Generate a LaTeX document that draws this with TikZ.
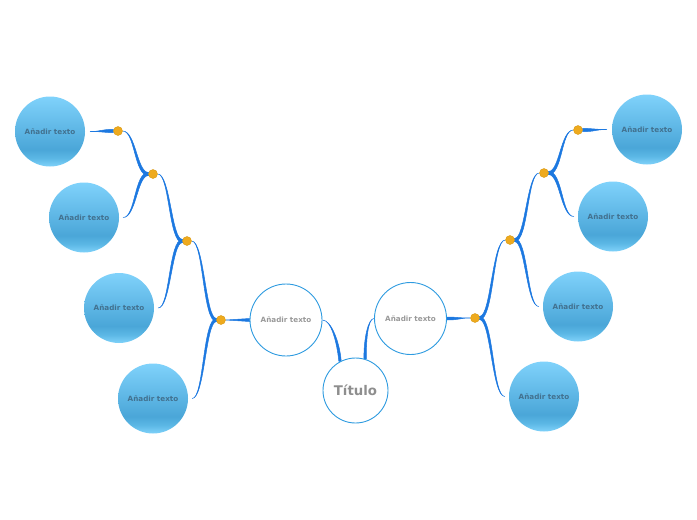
\documentclass[tikz,border=0pt]{standalone}
\usepackage{fontspec}
\usetikzlibrary{calc,backgrounds}
\newfontfamily\dv{DejaVu Sans}
\definecolor{connblue}{HTML}{1C78E0}
\definecolor{bluetext}{HTML}{42718F}
\definecolor{graytext}{HTML}{999999}
\definecolor{titletext}{HTML}{8E8E8E}
\definecolor{wstroke}{HTML}{2E9BE0}
\definecolor{dotfill}{HTML}{EEAA1E}
\definecolor{dotline}{HTML}{D99A14}
\definecolor{ctop}{HTML}{80D2FB}
\definecolor{cmid}{HTML}{4AA6D8}
\definecolor{cband}{HTML}{5BB7E5}
\definecolor{cbot}{HTML}{80D2FA}
\pgfdeclareverticalshading{bluecirc}{100bp}{color(0bp)=(cbot); color(25bp)=(cbot); color(31bp)=(cband); color(37bp)=(cmid); color(75bp)=(ctop); color(100bp)=(ctop)}
\newcommand\tconn[3]{%
  \filldraw[conn] let \p1=(#1), \p2=(#2), \n1={0.5*(\x1+\x2)},
      \n2={sign(\y2-\y1)*sign(\x2-\x1)*#3} in
    (\x1,\y1+#3) .. controls (\n1-\n2,\y1+#3) and (\n1-0.2*\n2,\y2) .. (\x2,\y2)
    .. controls (\n1+0.2*\n2,\y2) and (\n1+\n2,\y1-#3) .. (\x1,\y1-#3) -- cycle;}
\tikzset{
  bluec/.style={circle, minimum size=70pt, inner sep=0pt, shading=bluecirc, text=bluetext,
    font=\dv\bfseries\fontsize{7.2}{8}\selectfont},
  whitec/.style={circle, draw=wstroke, line width=0.9pt, fill=white, minimum size=72pt, inner sep=0pt,
    text=graytext, font=\dv\bfseries\fontsize{7.2}{8}\selectfont},
  titlec/.style={circle, draw=wstroke, line width=0.9pt, fill=white, minimum size=65pt, inner sep=0pt,
    text=titletext, font=\dv\bfseries\fontsize{13.3}{15}\selectfont},
  dotc/.style={circle, fill=dotfill, draw=dotline, line width=0.4pt, minimum size=9pt, inner sep=0pt},
  conn/.style={fill=connblue, draw=connblue, line width=0.5pt, line join=round}
}
\begin{document}
\begin{tikzpicture}[x=1pt,y=-1pt]
\useasboundingbox (0,0) rectangle (697,520);
\node[titlec] (T) at (355.5,390.5) {Título};
\node[whitec] (WL) at (286,320) {Añadir texto};
\node[whitec] (WR) at (410.5,318.5) {Añadir texto};
% blue circles
\node[bluec] (BL1) at (50,131.5) {Añadir texto};
\node[bluec] (BL2) at (84,217.5) {Añadir texto};
\node[bluec] (BL3) at (119,308) {Añadir texto};
\node[bluec] (BL4) at (153,398.5) {Añadir texto};
\node[bluec] (BR1) at (647,129.5) {Añadir texto};
\node[bluec] (BR2) at (613,216.5) {Añadir texto};
\node[bluec] (BR3) at (578,306.5) {Añadir texto};
\node[bluec] (BR4) at (544,396.5) {Añadir texto};
% dots
\node[dotc] (DL1) at (221,320) {};
\node[dotc] (DL2) at (187,241) {};
\node[dotc] (DL3) at (153,174) {};
\node[dotc] (DL4) at (118,131) {};
\node[dotc] (DR1) at (475,318) {};
\node[dotc] (DR2) at (510,240) {};
\node[dotc] (DR3) at (544,173) {};
\node[dotc] (DR4) at (578,130) {};
\begin{scope}[on background layer]
% title to main circles
\filldraw[conn] let \p1=(T.118), \p2=(WL.east) in
  (\x1-1.2pt,\y1) .. controls (\x1-3pt,\y1+18pt) and (\x2+9pt,\y2) .. (\x2,\y2)
  .. controls (\x2+9pt,\y2) and (\x1,\y1+18pt) .. (\x1+1.2pt,\y1) -- cycle;
\filldraw[conn] let \p1=(T.73), \p2=(WR.west) in
  (\x1+1.2pt,\y1) .. controls (\x1+1pt,\y1+20pt) and (\x2-6pt,\y2) .. (\x2,\y2)
  .. controls (\x2-6pt,\y2) and (\x1-1.5pt,\y1+20pt) .. (\x1-1.2pt,\y1) -- cycle;
% left tree
\tconn{WL.west}{DL1.east}{1.5pt}
\tconn{DL1.west}{DL2.east}{1.6pt}
\tconn{DL1.west}{$(BL4.east)+(4,0)$}{1.6pt}
\tconn{DL2.west}{DL3.east}{1.6pt}
\tconn{DL2.west}{$(BL3.east)+(4,0)$}{1.6pt}
\tconn{DL3.west}{DL4.east}{1.6pt}
\tconn{DL3.west}{$(BL2.east)+(4,0)$}{1.6pt}
\tconn{DL4.west}{$(BL1.east)+(5,0)$}{1.6pt}
% right tree
\tconn{WR.east}{DR1.west}{1.5pt}
\tconn{DR1.east}{DR2.west}{1.6pt}
\tconn{DR1.east}{$(BR4.west)+(-4,0)$}{1.6pt}
\tconn{DR2.east}{DR3.west}{1.6pt}
\tconn{DR2.east}{$(BR3.west)+(-4,0)$}{1.6pt}
\tconn{DR3.east}{DR4.west}{1.6pt}
\tconn{DR3.east}{$(BR2.west)+(-4,0)$}{1.6pt}
\tconn{DR4.east}{$(BR1.west)+(-5,0)$}{1.6pt}
\end{scope}
\end{tikzpicture}
\end{document}
